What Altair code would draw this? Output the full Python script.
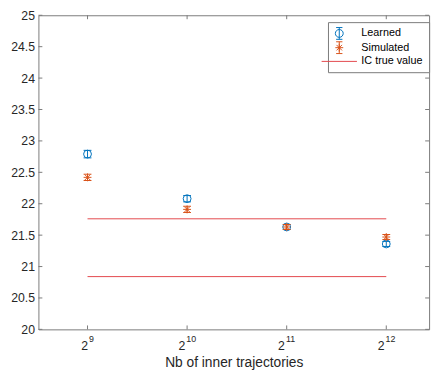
import altair as alt
import pandas as pd

# ---- data ----
x_exp = [9, 10, 11, 12]
x_tick_base = ["2", "2", "2", "2"]
x_tick_exp = ["9", "10", "11", "12"]
learned = [22.79, 22.08, 21.63, 21.36]
learned_err = [0.06, 0.05, 0.04, 0.04]
simulated = [22.42, 21.91, 21.63, 21.47]
simulated_err = [0.05, 0.05, 0.04, 0.04]
ic_true = [21.76, 20.84]
ic_x_start = [9, 9]
ic_x_end = [12, 12]
y_ticks = [20, 20.5, 21, 21.5, 22, 22.5, 23, 23.5, 24, 24.5, 25]
series_names = ["Learned", "Simulated", "IC true value"]

BLUE = "#0072BD"
ORANGE = "#D95319"
RED = "#E2474B"
AX = "#262626"
BOX = "#7a7a7a"
FONT = "Liberation Sans"

W, H = 398, 320

learned_df = pd.DataFrame({"x": x_exp, "y": learned,
                           "lo": [v - e for v, e in zip(learned, learned_err)],
                           "hi": [v + e for v, e in zip(learned, learned_err)]})
sim_df = pd.DataFrame({"x": x_exp, "y": simulated,
                       "lo": [v - e for v, e in zip(simulated, simulated_err)],
                       "hi": [v + e for v, e in zip(simulated, simulated_err)]})
ic_df = pd.DataFrame({"x": ic_x_start, "x2": ic_x_end, "y": ic_true})
ytick_df = pd.DataFrame({"y": y_ticks})
xtick_df = pd.DataFrame({"x": x_exp, "base": x_tick_base, "exp": x_tick_exp})
legend_df = pd.DataFrame({"series": series_names, "x": [100, 100, 100], "y": [22, 22, 22]})

xscale = alt.Scale(domain=[8.507, 12.43], nice=False, zero=False)
yscale = alt.Scale(domain=[20, 25], nice=False, zero=False)

xaxis = alt.Axis(values=x_exp, labels=False, tickSize=0, domain=False, grid=False,
                 title="Nb of inner trajectories", titleFont=FONT, titleFontSize=14,
                 titleFontWeight="normal", titleColor=AX, titlePadding=26)
yaxis = alt.Axis(values=y_ticks, format="~g", tickSize=0, domain=False, grid=False,
                 labelPadding=4, labelFontSize=12.5, labelFont=FONT, labelColor=AX, title=None)


def X(field="x"):
    return alt.X(f"{field}:Q", scale=xscale, axis=xaxis, title="Nb of inner trajectories")


def Y(field="y"):
    return alt.Y(f"{field}:Q", scale=yscale, axis=yaxis, title=None)


# inward ticks (MATLAB style)
ytick_left = alt.Chart(ytick_df).mark_rule(color=BOX, strokeWidth=1).encode(
    x=alt.value(0), x2=alt.value(4), y=Y())
ytick_right = alt.Chart(ytick_df).mark_rule(color=BOX, strokeWidth=1).encode(
    x=alt.value(W - 4), x2=alt.value(W), y=Y())
xtick_bottom = alt.Chart(xtick_df).mark_rule(color=BOX, strokeWidth=1).encode(
    x=X(), y=alt.value(H), y2=alt.value(H - 4))
xtick_top = alt.Chart(xtick_df).mark_rule(color=BOX, strokeWidth=1).encode(
    x=X(), y=alt.value(0), y2=alt.value(4))

# x tick labels as 2^n (base + raised exponent)
label_layers = []
for i in range(len(x_exp)):
    n = len(x_tick_exp[i])
    dx = 3.0 - 2.4 * n
    row = xtick_df.iloc[[i]]
    label_layers.append(alt.Chart(row).mark_text(
        align="right", baseline="alphabetic", font=FONT, fontSize=12.5, color=AX, dx=dx,
        clip=False).encode(x=X(), y=alt.value(H + 21), text="base:N"))
    label_layers.append(alt.Chart(row).mark_text(
        align="left", baseline="alphabetic", font=FONT, fontSize=9, color=AX, dx=dx + 1,
        clip=False).encode(x=X(), y=alt.value(H + 13), text="exp:N"))

ic_lines = alt.Chart(ic_df).mark_rule(color=RED, strokeWidth=1).encode(
    x=X(), x2="x2:Q", y=Y())

ASTER = "M0,-1L0,1M-1,0L1,0M-0.7,-0.7L0.7,0.7M-0.7,0.7L0.7,-0.7"


def series_layers(df, color, shape):
    bar = alt.Chart(df).mark_rule(color=color, strokeWidth=1).encode(x=X(), y=Y("lo"), y2="hi:Q")
    cap_lo = alt.Chart(df).mark_tick(color=color, orient="horizontal", size=8, thickness=1,
                                     opacity=1).encode(x=X(), y=Y("lo"))
    cap_hi = alt.Chart(df).mark_tick(color=color, orient="horizontal", size=8, thickness=1,
                                     opacity=1).encode(x=X(), y=Y("hi"))
    pts = alt.Chart(df).mark_point(shape=shape, filled=False, size=64, strokeWidth=1,
                                   color=color, opacity=1).encode(x=X(), y=Y())
    return [bar, cap_lo, cap_hi, pts]


LEG_CIRCLE = ("M-1,0A1,1 0 1,1 1,0A1,1 0 1,1 -1,0"
              "M0,-1.5L0,1.5M-0.8,-1.5L0.8,-1.5M-0.8,1.5L0.8,1.5")
LEG_ASTER = ASTER + "M0,-1.5L0,1.5M-0.8,-1.5L0.8,-1.5M-0.8,1.5L0.8,1.5"
LEG_LINE = "M-4.5,0L4.5,0"

leg = alt.Legend(title=None, orient="none", legendX=295, legendY=7, padding=6,
                 strokeColor=BOX, fillColor="white", labelFont=FONT, labelFontSize=11,
                 labelColor="#000000", symbolSize=64, symbolStrokeWidth=1, labelOffset=17,
                 rowPadding=-2.5, symbolOpacity=1, labelLimit=200)

legend_layer = alt.Chart(legend_df).mark_point(clip=True, filled=False, size=64, opacity=1).encode(
    x=X(), y=Y(),
    color=alt.Color("series:N", scale=alt.Scale(domain=series_names, range=[BLUE, ORANGE, RED]),
                    legend=leg),
    shape=alt.Shape("series:N", scale=alt.Scale(domain=series_names,
                                                range=[LEG_CIRCLE, LEG_ASTER, LEG_LINE]),
                    legend=leg),
)

chart = alt.layer(
    ytick_left, ytick_right, xtick_bottom, xtick_top, ic_lines,
    *series_layers(learned_df, BLUE, "circle"),
    *series_layers(sim_df, ORANGE, ASTER),
    *label_layers,
    legend_layer,
).properties(
    width=W, height=H,
    autosize=alt.AutoSizeParams(type="none"),
    padding={"left": 31, "top": 4, "right": 5, "bottom": 39},
    background="white",
).configure_view(stroke=BOX, strokeWidth=1)

chart.save("out.html", embed_options={"renderer": "svg", "actions": False})
